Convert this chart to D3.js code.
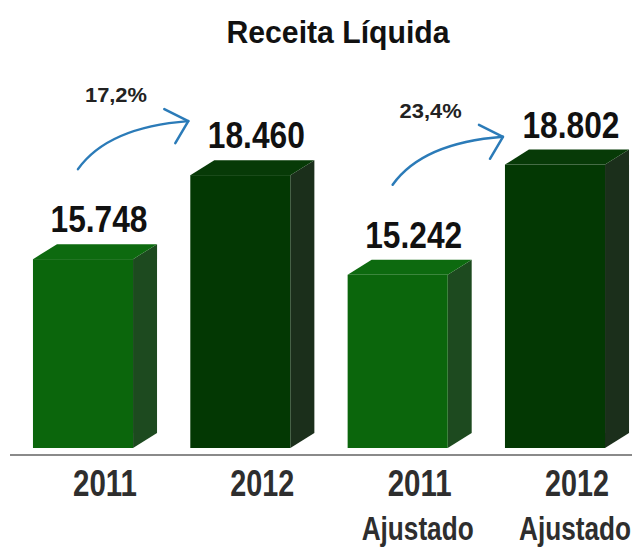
<!DOCTYPE html>
<html>
<head>
<meta charset="utf-8">
<script src="https://d3js.org/d3.v7.min.js"></script>
<style>
  body { margin: 0; background: #fff; }
  svg text { font-family: "Liberation Sans", Arial, sans-serif; font-weight: bold; }
</style>
</head>
<body>
<div id="chart"></div>
<script>
  // data
  var categories = ["2011", "2012", "2011 Ajustado", "2012 Ajustado"];
  var yearLabels = ["2011", "2012", "2011", "2012"];
  var subLabels = ["", "", "Ajustado", "Ajustado"];
  var values = [15748, 18460, 15242, 18802];
  var valueLabels = ["15.748", "18.460", "15.242", "18.802"];
  var growthFrom = [0, 2];
  var growthTo = [1, 3];
  var growthLabels = ["17,2%", "23,4%"];

  var width = 635, height = 550;
  var depthX = 24, depthY = 15;

  // bar colours: light green for 2011, dark green for 2012
  var frontColor = ["#0b660c", "#033803", "#0b660c", "#033803"];
  var sideColor = ["#1d4a1f", "#1b2f1b", "#1d4a1f", "#1b2f1b"];
  var topColor = ["#0d6a0f", "#073a07", "#0d6a0f", "#073a07"];

  var svg = d3.select("#chart")
    .append("svg")
    .attr("width", width)
    .attr("height", height);

  var xScale = d3.scaleBand()
    .domain(categories)
    .range([10, 628])
    .paddingInner(0.364)
    .paddingOuter(0.146);

  // the original axis does not start at zero
  var yScale = d3.scaleLinear()
    .domain([9650, 19000])
    .range([448, 158.4]);

  var bw = xScale.bandwidth();
  var y0 = yScale.range()[0];

  // narrow font look: squeeze text to the widths seen in the picture
  function squeeze(sel, w) {
    sel.attr("textLength", w).attr("lengthAdjust", "spacingAndGlyphs");
  }

  // title
  svg.append("text")
    .attr("x", 338)
    .attr("y", 43)
    .style("text-anchor", "middle")
    .style("font-size", "32px")
    .style("fill", "#111")
    .text("Receita Líquida")
    .call(squeeze, 223);

  var bars = svg.selectAll(".bar")
    .data(values)
    .enter()
    .append("g")
    .attr("class", "bar");

  // side face
  bars.append("path")
    .attr("fill", function(d, i) { return sideColor[i]; })
    .attr("d", function(d, i) {
      var x1 = xScale(categories[i]) + bw, yt = yScale(d);
      return "M" + x1 + "," + yt +
        "L" + (x1 + depthX) + "," + (yt - depthY) +
        "L" + (x1 + depthX) + "," + (y0 - depthY) +
        "L" + x1 + "," + y0 + "Z";
    });

  // top face
  bars.append("path")
    .attr("fill", function(d, i) { return topColor[i]; })
    .attr("d", function(d, i) {
      var x0 = xScale(categories[i]), yt = yScale(d);
      return "M" + x0 + "," + yt +
        "L" + (x0 + depthX) + "," + (yt - depthY) +
        "L" + (x0 + bw + depthX) + "," + (yt - depthY) +
        "L" + (x0 + bw) + "," + yt + "Z";
    });

  // front face
  bars.append("rect")
    .attr("x", function(d, i) { return xScale(categories[i]); })
    .attr("y", function(d) { return yScale(d); })
    .attr("width", bw)
    .attr("height", function(d) { return y0 - yScale(d); })
    .attr("fill", function(d, i) { return frontColor[i]; });

  // value labels
  bars.append("text")
    .attr("x", function(d, i) { return xScale(categories[i]) + bw / 2 + 16; })
    .attr("y", function(d) { return yScale(d) - depthY - 12; })
    .style("text-anchor", "middle")
    .style("font-size", "36px")
    .style("fill", "#111")
    .text(function(d, i) { return valueLabels[i]; })
    .call(squeeze, 97);

  // baseline
  svg.append("line")
    .attr("x1", 10)
    .attr("x2", 632)
    .attr("y1", 455)
    .attr("y2", 455)
    .attr("stroke", "#8a8a8a")
    .attr("stroke-width", 2);

  // category labels
  svg.selectAll(".cat")
    .data(categories)
    .enter()
    .append("text")
    .attr("class", "cat")
    .attr("x", function(d) { return xScale(d) + bw / 2 + 22; })
    .attr("y", 496)
    .style("text-anchor", "middle")
    .style("font-size", "36px")
    .style("fill", "#2e2e2e")
    .text(function(d, i) { return yearLabels[i]; })
    .call(squeeze, 64);

  // second line, squeezed with a transform so it stays inside the frame
  svg.selectAll(".sub")
    .data(categories.filter(function(d, i) { return subLabels[i]; }))
    .enter()
    .append("text")
    .attr("class", "sub")
    .attr("transform", function(d) {
      return "translate(" + (xScale(d) + bw / 2 + 20) + ",540) scale(0.77,1)";
    })
    .style("text-anchor", "middle")
    .style("font-size", "34px")
    .style("fill", "#2e2e2e")
    .text(function(d) { return subLabels[categories.indexOf(d)]; });

  // growth arrows
  growthFrom.forEach(function(f, k) {
    var t = growthTo[k];
    var sx = xScale(categories[f]) + 45;
    var sy = yScale(values[f]) - 90;
    var ex = xScale(categories[t]) - 2;
    var ey = sy - 48;

    svg.append("path")
      .attr("fill", "none")
      .attr("stroke", "#2b7bb8")
      .attr("stroke-width", 2.5)
      .attr("stroke-linecap", "round")
      .attr("d", "M" + sx + "," + sy +
        "Q" + (sx + 30) + "," + (ey + 6) + " " + ex + "," + ey);

    svg.append("path")
      .attr("fill", "none")
      .attr("stroke", "#2b7bb8")
      .attr("stroke-width", 2.5)
      .attr("stroke-linecap", "round")
      .attr("stroke-linejoin", "round")
      .attr("d", "M" + (ex - 24) + "," + (ey - 12) +
        "L" + ex + "," + ey +
        "L" + (ex - 13) + "," + (ey + 22));

    svg.append("text")
      .attr("x", sx + 38)
      .attr("y", sy - 67)
      .style("text-anchor", "middle")
      .style("font-size", "21px")
      .style("fill", "#222")
      .text(growthLabels[k])
      .call(squeeze, 62);
  });
</script>
</body>
</html>
